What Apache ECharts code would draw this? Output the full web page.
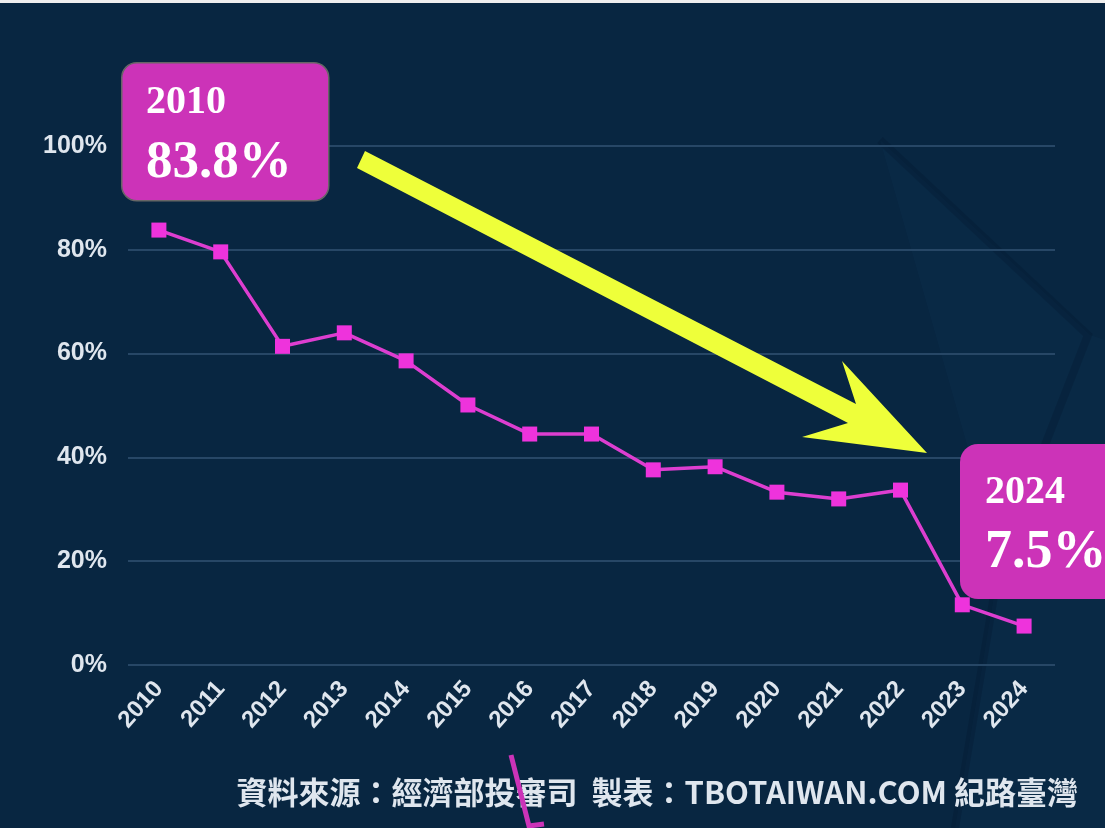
<!DOCTYPE html>
<html>
<head>
<meta charset="utf-8">
<script src="https://cdn.jsdelivr.net/npm/echarts@6/dist/echarts.min.js"></script>
<style>
  html, body { margin: 0; padding: 0; background: #eeeeee; }
  #chart { width: 1105px; height: 828px; }
</style>
</head>
<body>
<div id="chart"></div>
<script>
// 年份與比例（%）
const years = ['2010', '2011', '2012', '2013', '2014', '2015', '2016', '2017',
  '2018', '2019', '2020', '2021', '2022', '2023', '2024']
const shares = [83.8, 79.6, 61.4, 64.0, 58.6, 50.1, 44.5, 44.5,
  37.6, 38.2, 33.3, 32.0, 33.7, 11.6, 7.5]
const yTicks = [0, 20, 40, 60, 80, 100]
const sourceText = '資料來源：經濟部投審司  製表：TBOTAIWAN.COM 紀路臺灣'

const magenta = '#cc33b8'
const arrowColor = '#eeff3a'

const chart = echarts.init(document.getElementById('chart'))

chart.setOption({
  backgroundColor: '#082641',
  animation: false,
  grid: {
    left: 128,
    right: 50,
    top: 146,
    bottom: 163
  },
  xAxis: {
    type: 'category',
    data: years,
    boundaryGap: true,
    axisLine: { show: false },
    axisTick: { show: false },
    axisLabel: {
      rotate: 48,
      margin: 20,
      color: '#dfe6ee',
      fontFamily: 'Liberation Sans',
      fontWeight: 'bold',
      fontSize: 24
    }
  },
  yAxis: {
    type: 'value',
    min: yTicks[0],
    max: yTicks[yTicks.length - 1],
    interval: 20,
    axisLine: { show: false },
    axisTick: { show: false },
    axisLabel: {
      margin: 21,
      color: '#dfe6ee',
      fontFamily: 'Liberation Sans',
      fontWeight: 'bold',
      fontSize: 25,
      formatter: '{value}%'
    },
    splitLine: {
      lineStyle: { color: '#274766', width: 2 }
    }
  },
  series: [
    {
      type: 'line',
      data: shares,
      symbol: 'rect',
      symbolSize: 15,
      itemStyle: { color: '#ee33dc' },
      lineStyle: { color: '#dd3ed0', width: 3.5 },
      z: 5
    }
  ],
  graphic: [
    // 頂部淺灰條
    { type: 'rect', left: 0, top: 0, shape: { width: 1105, height: 3 }, style: { fill: '#eeeeee' }, z: 0 },
    // 右側背景淡色塊
    {
      type: 'polygon', z: -1, silent: true,
      shape: { points: [[880, 140], [1090, 335], [1105, 340], [1105, 828], [955, 828], [1000, 560]] },
      style: { fill: 'rgba(20,60,95,0.15)' }
    },
    {
      type: 'polyline', z: -1, silent: true,
      shape: { points: [[880, 140], [1088, 335], [1000, 560], [955, 828]] },
      style: { stroke: 'rgba(0,15,35,0.2)', lineWidth: 8 }
    },
    // 黃色箭頭
    {
      type: 'polygon', z: 20,
      shape: {
        points: [[365, 151], [856, 404], [842, 361], [927, 453], [802, 437], [848, 423], [357, 168]]
      },
      style: { fill: arrowColor }
    },
    // 2010 標籤框
    {
      type: 'rect', left: 121, top: 62, z: 30,
      shape: { width: 207, height: 138, r: 15 },
      style: { fill: magenta, stroke: '#666666', lineWidth: 1.5 }
    },
    {
      type: 'text', left: 146, top: 83, z: 31,
      style: { text: '2010', fill: '#ffffff', font: 'bold 40px "Liberation Serif"' }
    },
    {
      type: 'text', left: 146, top: 137, z: 31,
      style: { text: '83.8%', fill: '#ffffff', font: 'bold 53px "Liberation Serif"' }
    },
    // 2024 標籤框
    {
      type: 'rect', left: 960, top: 444, z: 30,
      shape: { width: 170, height: 155, r: 18 },
      style: { fill: magenta }
    },
    {
      type: 'text', left: 985, top: 473, z: 31,
      style: { text: '2024', fill: '#ffffff', font: 'bold 40px "Liberation Serif"' }
    },
    {
      type: 'text', left: 985, top: 526, z: 31,
      style: { text: '7.5%', fill: '#ffffff', font: 'bold 54px "Liberation Serif"' }
    },
    // 資料來源
    {
      type: 'text', right: 27, top: 777, z: 10,
      style: {
        text: sourceText,
        fill: '#dfe6ee',
        font: 'bold 31px "Noto Sans CJK TC"'
      }
    },
    // 底部洋紅色筆畫
    {
      type: 'polyline', z: 40,
      shape: { points: [[511, 755], [529, 826], [544, 824]] },
      style: { stroke: magenta, lineWidth: 5, fill: null }
    }
  ]
})
</script>
</body>
</html>
